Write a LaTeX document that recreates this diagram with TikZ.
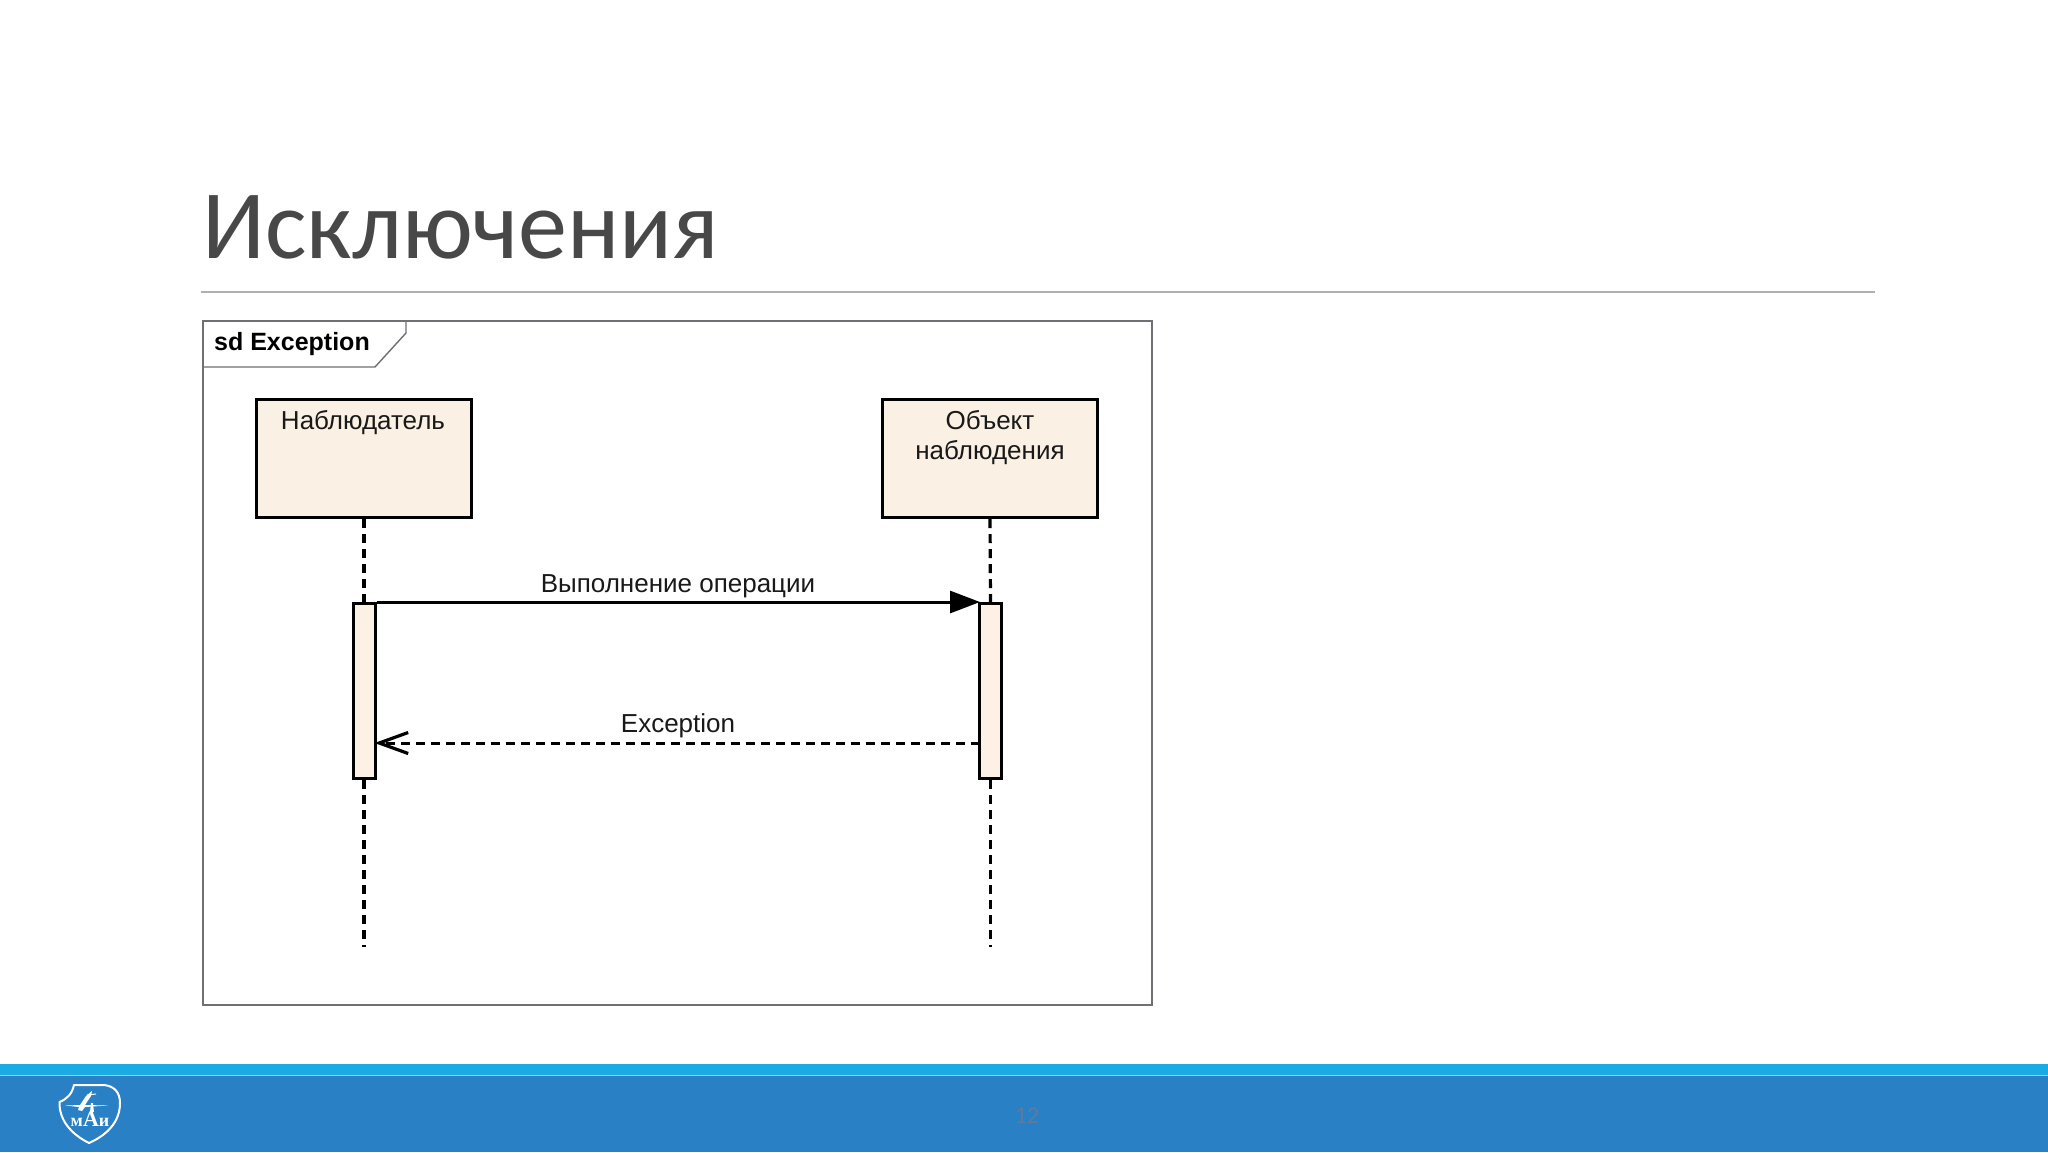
\documentclass[tikz,border=0pt]{standalone}
\usepackage{fontspec}
\setmainfont{Liberation Sans}
\newfontfamily\titlefont{Carlito}
\newfontfamily\logofont{Liberation Serif}
\usetikzlibrary{arrows.meta,positioning}
\definecolor{barblue}{HTML}{2A80C4}
\definecolor{stripeblue}{HTML}{1BABE3}
\definecolor{boxfill}{HTML}{FBF0E4}
\definecolor{actfill}{HTML}{FDF0E4}
\definecolor{framegrey}{HTML}{707074}
\definecolor{ruleg}{HTML}{B0B0B0}
\definecolor{titlegrey}{HTML}{484848}
\definecolor{pagenum}{HTML}{5F7A9C}
\tikzset{
  x=1pt,y=-1pt,
  lbl/.style={font=\fontsize{26}{30}\selectfont,text=black!90,inner sep=0pt,align=center},
  lifebox/.style={draw=black,line width=3.2pt,fill=boxfill,minimum width=215pt,minimum height=118pt,inner sep=0pt},
  actbar/.style={draw=black,line width=3pt,fill=actfill,minimum width=22pt,minimum height=175pt,inner sep=0pt},
  lifeline/.style={draw=black,line width=3.2pt,dash pattern=on 9pt off 6pt},
  syncmsg/.style={draw=black,line width=3pt,shorten >=-2pt,-{Triangle[length=30pt,width=22pt]}},
  retmsg/.style={draw=black,line width=3pt,dash pattern=on 9pt off 6pt,shorten >=-1pt,-{Straight Barb[length=29pt,width=21pt,line width=3.2pt]}},
  framebox/.style={draw=framegrey,line width=1.6pt},
}
\begin{document}
\begin{tikzpicture}
\useasboundingbox (0,0) rectangle (2048,1152);
\fill[white] (0,0) rectangle (2048,1152);
% title
\node[font=\titlefont\fontsize{98}{98}\selectfont,text=titlegrey,anchor=base west,inner sep=0pt] (title) at (202,258) {Исключения};
\coordinate (ruleL) at (201,292);
\coordinate (ruleR) at (1875,292);
\draw[ruleg,line width=1.6pt] (ruleL) -- (ruleR);
% frame
\draw[framebox] (203,321) rectangle (1152,1005);
\draw[framebox,line width=1.4pt] (203,367) -- (375,367) -- (406,333) -- (406,321);
\node[font=\bfseries\fontsize{25}{30}\selectfont,text=black,anchor=base west,inner sep=0pt] (sd) at (214,350) {sd Exception};
% lifeline heads
\node[lifebox] (obs) at (364,458.5) {};
\node[lifebox] (obj) at (990,458.5) {};
\node[lbl,anchor=base] (obsl) at (363,429) {Наблюдатель};
\node[lbl,anchor=base] (objl) at (990,429) {Объект};
\node[lbl,anchor=base] (objm) at (990,459) {наблюдения};
% activations
\node[actbar] (a1) at (364,691) {};
\node[actbar] (a2) at (990.5,691) {};
\coordinate (end1) at (364,947);
\coordinate (end2) at (990.5,947);
\draw[lifeline] (obs.south) -- (a1.north);
\draw[lifeline] (obj.south) -- (a2.north);
\draw[lifeline] (a1.south) -- (end1);
\draw[lifeline] (a2.south) -- (end2);
% messages
\draw[syncmsg] (a1.north east) -- (a2.north west);
\coordinate (ex2) at (979.5,743);
\coordinate (ex1) at (375.5,743);
\draw[retmsg] (ex2) -- (ex1);
\node[lbl,anchor=base] (m1) at (678,592) {Выполнение операции};
\node[lbl,anchor=base] (m2) at (678,732) {Exception};
% footer
\fill[stripeblue] (0,1064) rectangle (2048,1075);
\fill[barblue] (0,1075) rectangle (2048,1152);
\draw[white!50!stripeblue,line width=0.8pt] (0,1075.5) -- (2048,1075.5);
\node[font=\titlefont\fontsize{24}{24}\selectfont,text=pagenum,inner sep=0pt] (pg) at (1027,1116) {12};
% logo
\draw[white,line width=2pt,fill=barblue,line join=round]
  (74,1085) -- (104,1085) .. controls (114,1086) and (120,1092) .. (120,1103)
  .. controls (120,1122) and (107,1135) .. (89,1143)
  .. controls (71,1134) and (59,1120) .. (59.5,1102)
  .. controls (67,1099) and (72,1094) .. (74,1085) -- cycle;
\fill[white] (65,1105.5) -- (80,1105) -- (86,1096) -- (92,1091) -- (91,1096) -- (85,1105) -- (108,1105.5) -- (85,1107) -- (82,1111) -- (78,1110) -- (79,1107) -- cycle;
\draw[white,line width=1pt] (87,1095) -- (96,1094);
\fill[white] (91,1103) -- (93,1103) -- (94,1112) -- (90,1112) -- cycle;
\node[font=\logofont\bfseries\fontsize{18}{18}\selectfont,text=white,inner sep=0pt,anchor=base] (mai) at (90,1126) {м\fontsize{22}{22}\selectfont А\fontsize{18}{18}\selectfont и};
\end{tikzpicture}
\end{document}
